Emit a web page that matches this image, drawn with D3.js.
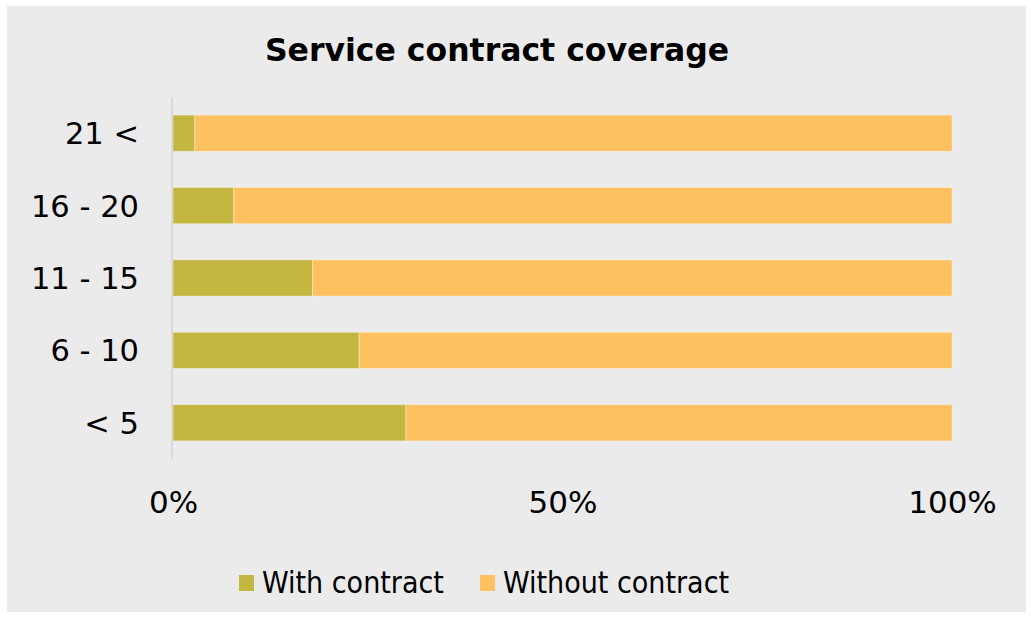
<!DOCTYPE html>
<html>
<head>
<meta charset="utf-8">
<script src="https://cdn.jsdelivr.net/npm/d3@7"></script>
<style>
  body { margin: 0; background: #ffffff; }
  svg text { fill: #000; }
</style>
</head>
<body>
<div id="chart"></div>
<script>
// donnees (en %)
const categories = ["21 <", "16 - 20", "11 - 15", "6 - 10", "< 5"];
const withContract = [2.8, 7.8, 17.9, 23.9, 29.9];
const withoutContract = [97.2, 92.2, 82.1, 76.1, 70.1];
const seriesNames = ["With contract", "Without contract"];
const seriesColors = ["#c3b742", "#ffc160"];
const tickValues = [0, 50, 100];

const width = 1031, height = 617;
const axisFont = "'DejaVu Sans', sans-serif";
const legendFont = "'DejaVu Sans Condensed', 'DejaVu Sans', sans-serif";

const svg = d3.select("#chart").append("svg")
  .attr("width", width)
  .attr("height", height);

// fond gris du graphique
svg.append("rect")
  .attr("x", 7).attr("y", 6)
  .attr("width", 1019).attr("height", 606)
  .attr("fill", "#ebebeb");

// titre
svg.append("text")
  .attr("x", 497).attr("y", 61)
  .attr("text-anchor", "middle")
  .style("font-family", axisFont)
  .style("font-weight", "bold")
  .style("font-size", "31.5px")
  .text("Service contract coverage");

const x = d3.scaleLinear().domain([0, 100]).range([173, 952]);
const y = d3.scaleBand().domain(categories).range([97, 459]).paddingInner(0.5).paddingOuter(0.25);

// empilement des series
const rows = categories.map((c, i) => ({ cat: c, a: withContract[i], b: withoutContract[i] }));
const layers = d3.stack().keys(["a", "b"])(rows);

svg.selectAll(".layer")
  .data(layers)
  .join("g")
  .attr("class", "layer")
  .attr("fill", (d, i) => seriesColors[i])
  .selectAll("rect")
  .data(d => d)
  .join("rect")
  .attr("x", d => x(d[0]))
  .attr("y", d => y(d.data.cat))
  .attr("width", d => x(d[1]) - x(d[0]))
  .attr("height", y.bandwidth())
  .attr("stroke", "rgba(255,255,255,0.35)")
  .attr("stroke-width", 1);

// axe vertical (ligne grise)
svg.append("line")
  .attr("x1", 172).attr("x2", 172)
  .attr("y1", 97).attr("y2", 459)
  .attr("stroke", "#d9d9d9")
  .attr("stroke-width", 2);

// libelles des categories
svg.selectAll(".cat")
  .data(categories)
  .join("text")
  .attr("class", "cat")
  .attr("x", 139)
  .attr("y", d => y(d) + y.bandwidth() / 2 + 11)
  .attr("text-anchor", "end")
  .style("font-family", axisFont)
  .style("font-size", "30.5px")
  .text(d => d);

// graduations en bas
const xAxis = d3.axisBottom(x).tickValues(tickValues).tickFormat(d => d + "%").tickSize(0);
const gx = svg.append("g")
  .attr("transform", "translate(0,480)")
  .call(xAxis);
gx.select(".domain").remove();
gx.selectAll("text")
  .attr("fill", "#000")
  .attr("dy", 0).attr("y", 33)
  .style("font-family", axisFont)
  .style("font-size", "31px");

// legende
const legendX = [239, 480];
const legend = svg.selectAll(".leg")
  .data(seriesNames)
  .join("g")
  .attr("class", "leg")
  .attr("transform", (d, i) => `translate(${legendX[i]},575)`);
legend.append("rect")
  .attr("width", 15).attr("height", 16)
  .attr("fill", (d, i) => seriesColors[i]);
legend.append("text")
  .attr("x", 23).attr("y", 18)
  .style("font-family", legendFont)
  .style("font-size", "30px")
  .text(d => d);
</script>
</body>
</html>
